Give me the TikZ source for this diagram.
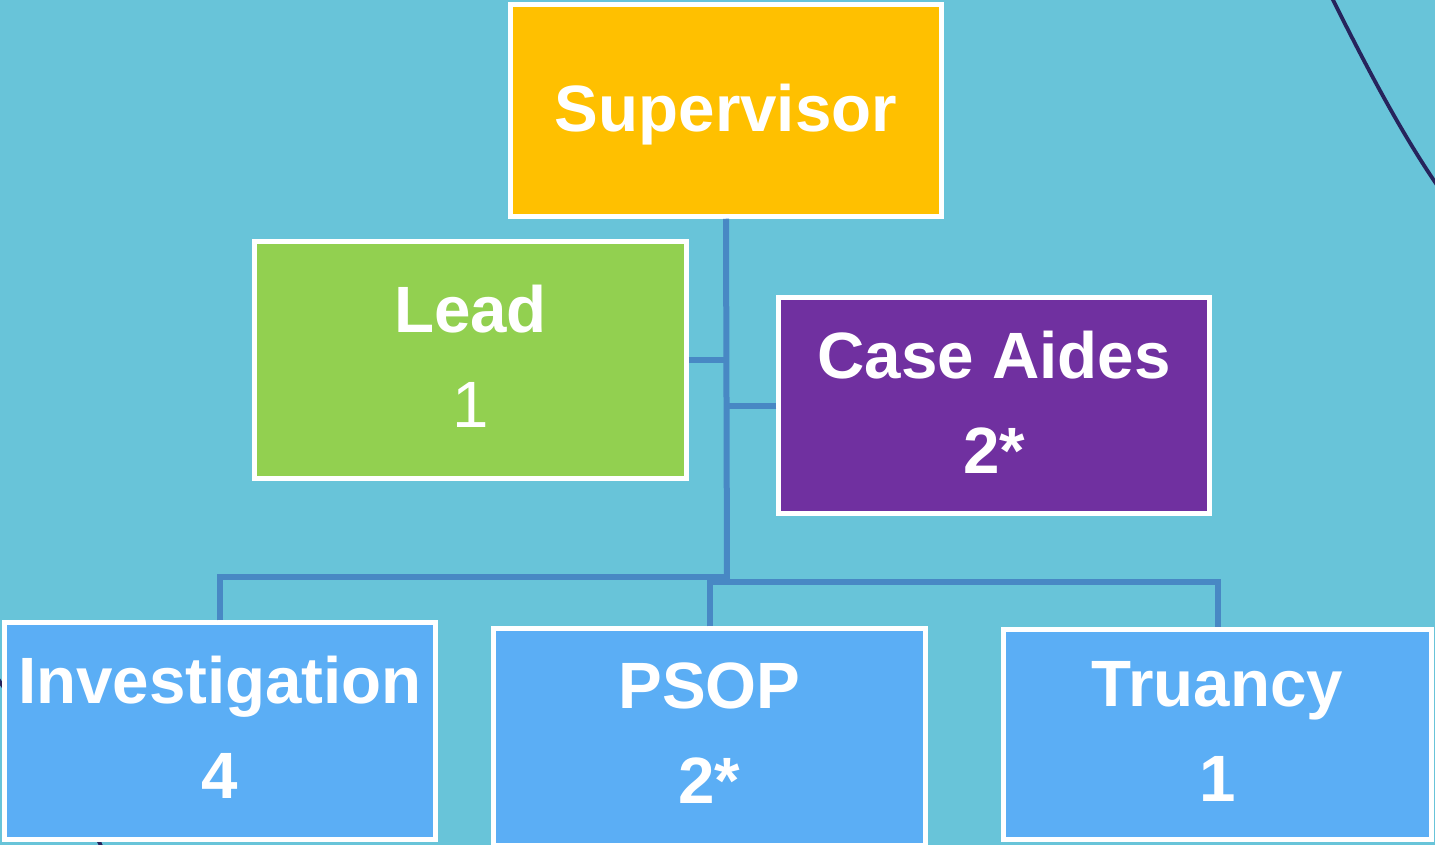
\documentclass[tikz,border=0pt]{standalone}
\usepackage{fontspec}
\setmainfont{Liberation Sans}
\definecolor{bgcyan}{RGB}{104,196,217}
\definecolor{supyellow}{RGB}{255,192,0}
\definecolor{leadgreen}{RGB}{146,208,80}
\definecolor{aidepurple}{RGB}{112,48,160}
\definecolor{unitblue}{RGB}{91,174,245}
\definecolor{linkblue}{RGB}{72,136,196}
\definecolor{navy}{RGB}{38,36,92}
% struts that nudge the text block inside its box
\newcommand\lowstrut{\rule[-7pt]{0pt}{7pt}}
\newcommand\tallstrut{\rule{0pt}{56pt}}
\tikzset{
  orgbox/.style={draw=white, line width=4.5pt, align=center, text=white,
    font=\fontsize{65.5}{95}\selectfont\bfseries, inner sep=0pt},
  link/.style={draw=linkblue, line width=6pt},
  swoosh/.style={draw=navy, line width=3.8pt}
}
\begin{document}
\begin{tikzpicture}[x=1pt,y=-1pt]
  % page and background
  \fill[bgcyan] (0,0) rectangle (1435,845);
  \useasboundingbox (0,0) rectangle (1435,845);

  % decorative curves behind the chart
  \draw[swoosh] (1332,-2) .. controls (1362,58) and (1398,128) .. (1437,185);
  \draw[swoosh] (-4,676) .. controls (40,740) and (80,800) .. (102,848);

  % connector hubs on the trunk
  \coordinate (hubA) at (727,577);
  \coordinate (hubB) at (727,582);

  % boxes
  \node[orgbox, fill=supyellow, minimum width=431pt, minimum height=212pt]
    (sup) at (726,110.5) {\tallstrut Supervisor};
  \node[orgbox, fill=leadgreen, minimum width=432pt, minimum height=237pt]
    (lead) at (470.5,360) {Lead\\\mdseries 1\lowstrut};
  \node[orgbox, fill=aidepurple, minimum width=431pt, minimum height=216pt]
    (aide) at (994,405.5) {Case Aides\\2*\lowstrut};
  \node[orgbox, fill=unitblue, minimum width=431pt, minimum height=217pt]
    (inv) at (220,731) {Investigation\\4\lowstrut};
  \node[orgbox, fill=unitblue, minimum width=432pt, minimum height=217pt]
    (psop) at (709.5,737) {PSOP\\2*\lowstrut};
  \node[orgbox, fill=unitblue, minimum width=428pt, minimum height=210pt]
    (tru) at (1217.5,734.5) {Truancy\\1\lowstrut};

  % connectors
  \draw[link] (sup.south) -- (hubB);
  \draw[link] (lead.east) -- (lead.east -| sup.south);
  \draw[link] (aide.west) -- (aide.west -| sup.south);
  \draw[link] (inv.north) |- (hubA);
  \draw[link] (psop.north) |- (hubB);
  \draw[link] (hubB) -| (tru.north);
\end{tikzpicture}
\end{document}
